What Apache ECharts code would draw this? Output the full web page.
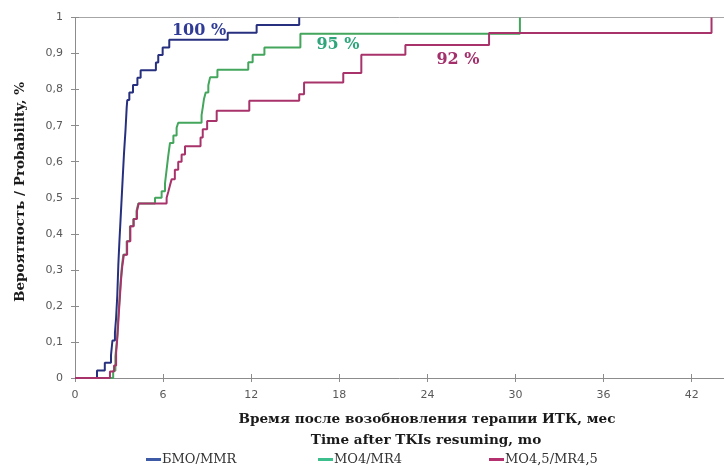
<!DOCTYPE html>
<html>
<head>
<meta charset="utf-8">
<script src="https://cdn.jsdelivr.net/npm/echarts@6/dist/echarts.min.js"></script>
<style>
  html, body { margin: 0; padding: 0; background: #ffffff; }
  #chart { width: 724px; height: 468px; }
</style>
</head>
<body>
<div id="chart"></div>
<script>
// Cumulative probability of regaining response after TKI therapy was resumed
const seriesNames = ['БМО/MMR', 'МО4/MR4', 'МО4,5/MR4,5'];

// Event times, months after resuming TKIs
const mmrMonths = [0, 1.5, 2.03, 2.45, 2.55, 2.72, 2.8, 2.88, 2.95, 3.02, 3.1, 3.18, 3.26, 3.34, 3.44, 3.52, 3.56, 3.7, 3.95, 4.25, 4.47, 5.51, 5.67, 5.97, 6.42, 10.4, 12.37, 15.27];
const mmrProb   = [0, 0.021, 0.042, 0.063, 0.104, 0.125, 0.167, 0.229, 0.313, 0.375, 0.438, 0.5, 0.563, 0.625, 0.688, 0.75, 0.771, 0.792, 0.813, 0.833, 0.854, 0.875, 0.896, 0.917, 0.938, 0.958, 0.979, 1];

const mr4Months = [0, 2.6, 2.75, 2.85, 2.92, 3.0, 3.08, 3.17, 3.29, 3.52, 3.74, 3.97, 4.19, 4.31, 5.45, 5.9, 6.13, 6.24, 6.35, 6.47, 6.7, 6.92, 7.03, 8.62, 8.7, 8.78, 8.9, 9.08, 9.2, 9.7, 11.8, 12.1, 12.9, 15.35, 30.3];
const mr4Prob   = [0, 0.02, 0.06, 0.1, 0.15, 0.2, 0.25, 0.3, 0.342, 0.379, 0.421, 0.441, 0.463, 0.484, 0.5, 0.518, 0.54, 0.578, 0.616, 0.652, 0.673, 0.694, 0.708, 0.729, 0.75, 0.773, 0.792, 0.812, 0.834, 0.855, 0.876, 0.897, 0.917, 0.955, 1];

const mr45Months = [0, 2.38, 2.66, 2.8, 2.9, 2.97, 3.05, 3.13, 3.22, 3.33, 3.55, 3.77, 4.0, 4.22, 4.34, 6.24, 6.35, 6.47, 6.58, 6.8, 7.03, 7.26, 7.49, 8.55, 8.7, 9.0, 9.65, 11.87, 15.27, 15.6, 18.27, 19.5, 22.5, 28.2, 43.35];
const mr45Prob   = [0, 0.018, 0.035, 0.07, 0.12, 0.17, 0.22, 0.27, 0.31, 0.342, 0.379, 0.421, 0.441, 0.463, 0.484, 0.5, 0.516, 0.535, 0.551, 0.578, 0.6, 0.62, 0.643, 0.667, 0.69, 0.713, 0.741, 0.769, 0.787, 0.82, 0.846, 0.897, 0.924, 0.957, 1];

// Axis ticks
const xTicks = [0, 6, 12, 18, 24, 30, 36, 42];
const xMax = 44.2;

// Percentages written next to the curves
const noteTexts = ['100 %', '95 %', '92 %'];

const lineColors = ['#27307f', '#43a65c', '#a8336b'];
const legendColors = ['#3d5aa6', '#3cbf8c', '#b5306e'];
const noteColors = ['#2f3b96', '#2fa57c', '#a3306b'];

const pairs = (xs, ys) => xs.map((x, i) => [x, ys[i]]);
const seriesData = [pairs(mmrMonths, mmrProb), pairs(mr4Months, mr4Prob), pairs(mr45Months, mr45Prob)];

const axisGrey = '#8c8c8c';
const gridBox = { left: 75, right: 0, top: 17.5, bottom: 90 };
const tickFont = { fontFamily: 'DejaVu Sans', fontSize: 11, color: '#595959' };
const serif = 'DejaVu Serif';

const chart = echarts.init(document.getElementById('chart'), null, { renderer: 'canvas' });

const option = {
  animation: false,
  backgroundColor: '#ffffff',
  grid: [Object.assign({}, gridBox), Object.assign({}, gridBox)],
  xAxis: [
    {
      type: 'value', gridIndex: 0, min: 0, max: xMax, interval: 6, position: 'bottom',
      axisLine: { show: true, onZero: false, lineStyle: { color: axisGrey, width: 1 } },
      axisTick: { show: true, length: 4, inside: false, customValues: xTicks, lineStyle: { color: axisGrey } },
      axisLabel: Object.assign({ margin: 12, customValues: xTicks }, tickFont),
      splitLine: { show: false }
    },
    {
      type: 'value', gridIndex: 0, min: 0, max: xMax, position: 'top',
      axisLine: { show: true, onZero: false, lineStyle: { color: '#a6a6a6', width: 1 } },
      axisTick: { show: false }, axisLabel: { show: false }, splitLine: { show: false }
    },
    {
      type: 'value', gridIndex: 1, min: 0, max: xMax, interval: 6, position: 'bottom',
      axisLine: { show: false },
      axisTick: { show: true, inside: true, length: 4, customValues: xTicks, lineStyle: { color: axisGrey } },
      axisLabel: { show: false }, splitLine: { show: false }
    }
  ],
  yAxis: [
    {
      type: 'value', gridIndex: 0, min: 0, max: 1, interval: 0.1, position: 'left',
      axisLine: { show: true, onZero: false, lineStyle: { color: axisGrey, width: 1 } },
      axisTick: { show: true, length: 4, lineStyle: { color: axisGrey } },
      axisLabel: Object.assign({
        margin: 12,
        formatter: v => (v === 0 ? '0' : v === 1 ? '1' : v.toFixed(1).replace('.', ','))
      }, tickFont),
      splitLine: { show: false }
    },
    {
      type: 'value', gridIndex: 1, min: 0, max: 1, interval: 0.1, position: 'left',
      axisLine: { show: false },
      axisTick: { show: true, inside: true, length: 4, lineStyle: { color: axisGrey } },
      axisLabel: { show: false }, splitLine: { show: false }
    }
  ],
  legend: seriesNames.map((name, i) => ({
    data: [{ name: name, itemStyle: { color: legendColors[i] } }],
    left: [146, 318, 489][i],
    top: 453,
    icon: 'rect',
    itemWidth: 15,
    itemHeight: 3,
    itemGap: 0,
    padding: 0,
    selectedMode: false,
    textStyle: { fontFamily: serif, fontSize: 13, color: '#333333', padding: [0, 0, 0, -4] }
  })),
  graphic: [
    {
      type: 'text', x: 20, y: 192, rotation: Math.PI / 2,
      style: {
        text: 'Вероятность / Probability, %', font: 'bold 13.5px "DejaVu Serif"',
        fill: '#1a1a1a', textAlign: 'center', textVerticalAlign: 'middle'
      }
    },
    {
      type: 'text', x: 427, y: 419,
      style: {
        text: 'Время после возобновления терапии ИТК, мес', font: 'bold 13.6px "DejaVu Serif"',
        fill: '#1a1a1a', textAlign: 'center', textVerticalAlign: 'middle'
      }
    },
    {
      type: 'text', x: 426, y: 440,
      style: {
        text: 'Time after TKIs resuming, mo', font: 'bold 13.6px "DejaVu Serif"',
        fill: '#1a1a1a', textAlign: 'center', textVerticalAlign: 'middle'
      }
    },
    {
      type: 'text', x: 199, y: 31,
      style: { text: noteTexts[0], font: 'bold 16px "DejaVu Serif"', fill: noteColors[0], textAlign: 'center', textVerticalAlign: 'middle' }
    },
    {
      type: 'text', x: 338, y: 45,
      style: { text: noteTexts[1], font: 'bold 16px "DejaVu Serif"', fill: noteColors[1], textAlign: 'center', textVerticalAlign: 'middle' }
    },
    {
      type: 'text', x: 458, y: 60,
      style: { text: noteTexts[2], font: 'bold 16px "DejaVu Serif"', fill: noteColors[2], textAlign: 'center', textVerticalAlign: 'middle' }
    }
  ],
  series: seriesNames.map((name, i) => ({
    name: name,
    type: 'line',
    xAxisIndex: 0,
    yAxisIndex: 0,
    step: 'end',
    showSymbol: false,
    symbol: 'none',
    data: seriesData[i],
    itemStyle: { color: lineColors[i] },
    lineStyle: { color: lineColors[i], width: 2 },
    z: 3 + i
  }))
};

chart.setOption(option);
</script>
</body>
</html>
